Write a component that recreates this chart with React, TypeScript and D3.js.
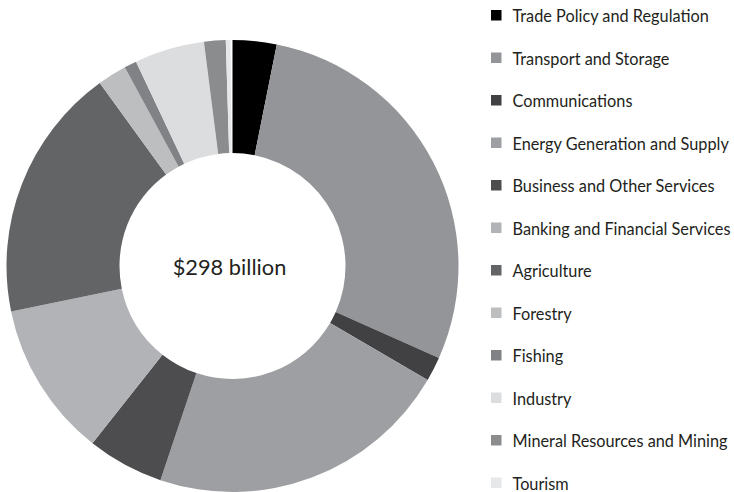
import React from "react";
import * as d3 from "d3";

const categories = [
  "Trade Policy and Regulation",
  "Transport and Storage",
  "Communications",
  "Energy Generation and Supply",
  "Business and Other Services",
  "Banking and Financial Services",
  "Agriculture",
  "Forestry",
  "Fishing",
  "Industry",
  "Mineral Resources and Mining",
  "Tourism",
];

const values = [9.35, 85.0, 5.2, 64.8, 16.3, 33.2, 54.3, 6.2, 2.65, 14.9, 4.6, 1.0];

const colors = [
  "#000000",
  "#939598",
  "#414042",
  "#9d9fa2",
  "#4d4d4f",
  "#b1b3b6",
  "#636466",
  "#bcbec0",
  "#808285",
  "#dcdddf",
  "#8a8c8e",
  "#e6e7e8",
];

const centerLabel = "$298 billion";

const W = 734;
const H = 492;
const cx = 232.5;
const cy = 266;
const outerR = 226;
const innerR = 113;

export default function App() {
  const data = categories.map((c, i) => ({ name: c, value: values[i], color: colors[i] }));
  const pie = d3
    .pie<any>()
    .sort(null)
    .value((d: any) => d.value)
    .startAngle(0)
    .endAngle(2 * Math.PI * (359.5 / 360));
  const arcs = pie(data);
  const arc = d3.arc<any>().innerRadius(innerR).outerRadius(outerR);

  const legendY = d3
    .scalePoint<string>()
    .domain(categories)
    .range([15, 482.5]);

  return (
    <svg
      width={W}
      height={H}
      style={{ position: "absolute", left: 0, top: 0, background: "#fff" }}
      fontFamily="Lato, 'Open Sans', sans-serif"
    >
      <g transform={`translate(${cx},${cy})`}>
        {arcs.map((a, i) => (
          <path key={i} d={arc(a) as string} fill={a.data.color} />
        ))}
        <text
          x={-3}
          y={0}
          textAnchor="middle"
          dominantBaseline="central"
          fontSize={21.8}
          fill="#231f20"
        >
          {centerLabel}
        </text>
      </g>
      <g>
        {data.map((d) => {
          const y = legendY(d.name) as number;
          return (
            <g key={d.name} transform={`translate(491,${y})`}>
              <rect x={0} y={-5} width={10.5} height={10.5} fill={d.color} />
              <text x={21.5} y={0.5} dominantBaseline="central" fontSize={16.3} fill="#231f20">
                {d.name}
              </text>
            </g>
          );
        })}
      </g>
    </svg>
  );
}
